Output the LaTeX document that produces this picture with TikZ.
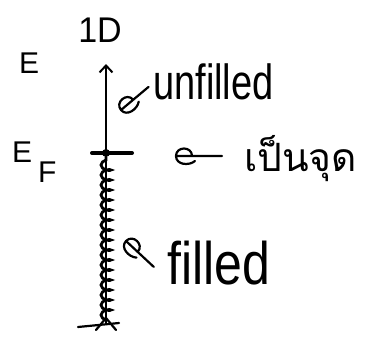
\documentclass[tikz,border=0pt]{standalone}
\usepackage{graphicx}
\usepackage{fontspec}
\setmainfont{Liberation Sans}
\newfontfamily\thaifont[Script=Thai]{Loma}
\usetikzlibrary{arrows.meta,decorations.pathmorphing}
\tikzset{
  pen/.style={line width=2.2pt, line cap=round, line join=round, black},
  lbl/.style={inner sep=0pt},
  pics/hook/.style={code={
    \draw[pen] (0,0) -- (#1,0)
      (16,0) .. controls (16,-10) and (0,-10) .. (0,0) .. controls (0,9) and (13,10) .. (19,5);
  }}
}
\begin{document}
\begin{tikzpicture}[x=1pt,y=-1pt]
\useasboundingbox (0,0) rectangle (366,338);
% labels
\node[lbl, anchor=base] (oneD) at (100,42) {\fontsize{34}{34}\selectfont\scalebox{1}[1.05]{1D}};
\node[lbl, anchor=base west] (E) at (19,73) {\fontsize{30}{30}\selectfont E};
\node[lbl, anchor=base west] (EF) at (12,162) {\fontsize{30}{30}\selectfont E};
\node[lbl, anchor=base west] (F) at (38,182) {\fontsize{30}{30}\selectfont F};
\node[lbl, anchor=base west] (unf) at (153,99) {\fontsize{38}{38}\selectfont\scalebox{1}[1.3]{unfilled}};
\node[lbl, anchor=base west] (fil) at (167,284) {\fontsize{50}{50}\selectfont\scalebox{1}[1.2]{filled}};
\node[lbl, anchor=base west] (thai) at (244,171) {\thaifont\fontsize{39}{39}\selectfont เป็นจุด};
% axis
\coordinate (bot) at (106,324);
\coordinate (top) at (106,64);
\coordinate (fermi) at (106,153);
\draw[pen, -{Straight Barb[length=7pt,width=13pt,line width=2pt]}] (bot) -- (top);
% filled states
\draw[line width=2.8pt, decorate, decoration={coil, amplitude=5pt, segment length=10pt, aspect=0.5}] (106,320) -- (106,157);
% Fermi level tick
\draw[line width=4pt, line cap=round] (92,153) -- (132,153);
\fill (fermi) circle (4pt);
% bottom foot
\draw[pen] (78,327) -- (119,323);
\draw[pen] (106,318) -- (96,330);
\draw[pen] (106,318) -- (116,330);
% pointers
\coordinate (hU) at (121,110);
\coordinate (hF) at (176,156);
\coordinate (hL) at (126,241);
\pic[rotate=40] at (hU) {hook=36};
\pic at (hF) {hook=46};
\pic[rotate=-43] at (hL) {hook=38};
\end{tikzpicture}
\end{document}
